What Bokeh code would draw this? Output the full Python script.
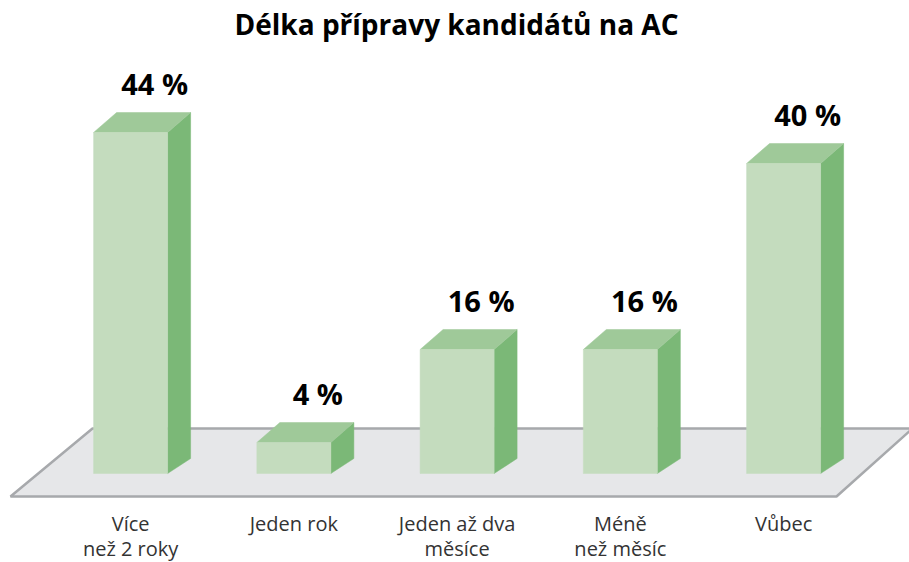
from bokeh.plotting import figure
from bokeh.models import Range1d
from bokeh.embed import file_html
from bokeh.resources import INLINE
from bokeh.core.properties import value

# ---- data ----
title_text = "Délka přípravy kandidátů na AC"
categories = ["Více\nnež 2 roky", "Jeden rok", "Jeden až dva\nměsíce", "Méně\nnež měsíc", "Vůbec"]
values = [44, 4, 16, 16, 40]
value_labels = ["44 %", "4 %", "16 %", "16 %", "40 %"]

# ---- layout helpers (page pixel -> data) ----
X0, XSTEP = 130.1, 163.25      # page px of category 0 centre, px per category
Y0, YK = 473.0, 7.75           # page px of value 0, px per percent
def px2x(px): return (px - X0) / XSTEP
def py2v(py): return (Y0 - py) / YK
def dxu(d): return d / XSTEP
def dyu(d): return d / YK

W, H = 909, 562
p = figure(width=W, height=H, output_backend="svg", toolbar_location=None,
           x_range=Range1d(px2x(0), px2x(W)), y_range=Range1d(py2v(H), py2v(0)),
           min_border=0, outline_line_color=None, background_fill_color="white",
           border_fill_color="white")
p.axis.visible = False
p.grid.visible = False

# floor
fx = [px2x(10), px2x(836), px2x(912), px2x(92)]
fy = [py2v(496), py2v(496), py2v(428), py2v(428)]
p.patch(fx, fy, fill_color="#e6e7e9", line_color="#a7a9ac", line_width=2.5)

half = dxu(37)
ddx = dxu(23)
ddy_top = dyu(20)
ddy_bot = dyu(15)
front_c, side_c, top_c = "#c4dcbe", "#7bb877", "#9fc999"

fxs, fys, sxs, sys_, txs, tys = [], [], [], [], [], []
for i, v in enumerate(values):
    l, r = i - half, i + half
    fxs.append([l, r, r, l]); fys.append([0, 0, v, v])
    sxs.append([r, r + ddx, r + ddx, r]); sys_.append([0, ddy_bot, v + ddy_top, v])
    txs.append([l, r, r + ddx, l + ddx]); tys.append([v, v, v + ddy_top, v + ddy_top])
p.patches(sxs, sys_, fill_color=side_c, line_color=side_c, line_width=0.5)
p.patches(txs, tys, fill_color=top_c, line_color=top_c, line_width=0.5)
p.patches(fxs, fys, fill_color=front_c, line_color=front_c, line_width=0.5)

# value labels
lab_x = [i + dxu(24) for i in range(len(values))]
lab_y = [v + dyu(49) for v in values]
p.text(lab_x, lab_y, text=value_labels, text_font=value("Open Sans"), text_font_style="bold",
       text_font_size="29px", text_align="center", text_baseline="alphabetic", text_color="#000000")

# category labels
cx, cy, ct = [], [], []
for i, c in enumerate(categories):
    for j, line in enumerate(c.split("\n")):
        cx.append(i); cy.append(py2v(523 + j * 25)); ct.append(line)
p.text(cx, cy, text=ct, text_font=value("Open Sans"), text_font_size="20px",
       text_align="center", text_baseline="alphabetic", text_color="#333333")

# title
p.text([px2x(456)], [py2v(23)], text=[title_text], text_font=value("Open Sans"),
       text_font_style="bold", text_font_size="28px", text_align="center",
       text_baseline="alphabetic", text_color="#000000")

open("out.html", "w").write(file_html(p, INLINE))
